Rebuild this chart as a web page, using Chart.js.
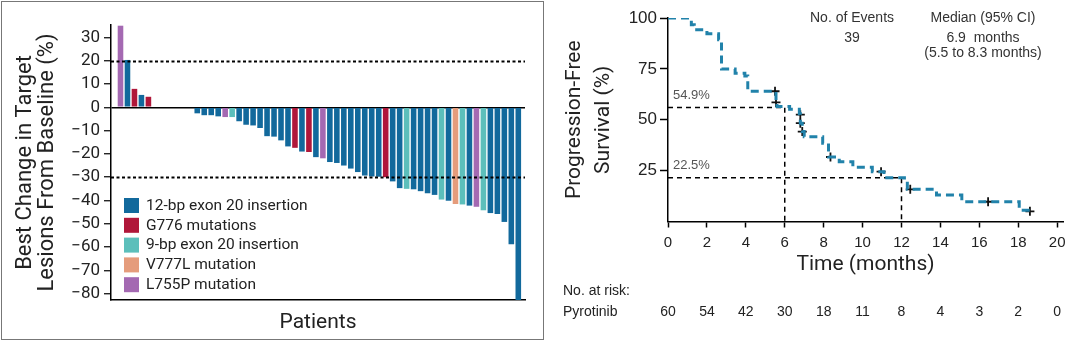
<!DOCTYPE html>
<html><head><meta charset="utf-8">
<script src="https://cdn.jsdelivr.net/npm/chart.js@4.4.1/dist/chart.umd.min.js"></script>
<style>
html,body{margin:0;padding:0;background:#fff;}
#wrap{position:relative;width:1080px;height:341px;overflow:hidden;background:#fff;}
#frame{position:absolute;left:1px;top:1px;width:541px;height:337px;border:1px solid #777;}
#c1{position:absolute;left:0;top:0;}
#c2{position:absolute;left:545px;top:0;}
</style></head><body>
<div id="wrap"><div id="frame"></div>
<canvas id="c1" width="545" height="341"></canvas>
<canvas id="c2" width="535" height="341"></canvas></div>
<script>
// ---------- Waterfall data ----------
const bestChange = [35, 20.3, 7.9, 5.3, 4.5, 0, 0, 0, 0, 0, 0,
  -2.6, -3.4, -3.4, -3.9, -4.2, -4.2, -6.0, -7.5, -7.8, -8.9,
  -12.4, -12.6, -14.2, -16.8, -17.4, -19.0, -19.2, -21.4, -21.9, -23.5,
  -23.9, -25.0, -26.3, -27.8, -29.3, -29.7, -29.8, -30.0, -31.8, -34.7,
  -35.0, -35.2, -36.0, -36.9, -37.6, -39.6, -40.1, -41.5, -41.7, -42.2,
  -42.7, -44.2, -45.4, -45.8, -49.2, -58.8, -83];
const mutationType = ['P','B','R','B','R','B','B','B','B','B','B',
  'B','B','B','B','P','T','B','B','B','B',
  'B','B','B','B','R','B','R','B','P','B',
  'B','B','B','B','B','B','B','R','B','B',
  'T','B','B','B','B','T','B','S','T','B',
  'P','T','B','B','B','B','B'];
const patients = bestChange.map((v, i) => i);   // patient position along the x axis
const legendKeys = ['B', 'R', 'T', 'S', 'P'];
const legendLabels = ['12-bp exon 20 insertion', 'G776 mutations', '9-bp exon 20 insertion', 'V777L mutation', 'L755P mutation'];
const typeColors = { B: '#12699c', R: '#b0173a', T: '#5cbfbb', S: '#e59c7c', P: '#a469b2' };
const leftYTicks = [30, 20, 10, 0, -10, -20, -30, -40, -50, -60, -70, -80];
const refLevels = [20, -30];

// ---------- Kaplan-Meier data ----------
const kmTime = [0, 1.2, 1.35, 2.0, 2.6, 2.75, 3.45, 3.95, 4.1, 5.55, 5.6, 6.25, 6.75, 6.8, 6.9, 7.0, 7.95, 8.25, 8.8, 9.5, 10.5, 11.1, 12.15, 12.3, 13.8, 15.1, 18.05, 18.6];
const kmSurv = [100, 96.7, 94.2, 92.3, 89.3, 75, 72.8, 71.5, 64, 59, 56.5, 55.2, 53, 48.3, 44.2, 41.7, 38.5, 31.7, 29.4, 26.7, 24.5, 21.5, 19.6, 15.8, 13, 9.7, 5.5, 5.5];
const censorTime = [5.5, 5.55, 6.8, 6.8, 6.9, 8.35, 10.95, 12.45, 16.45, 18.6];
const censorSurv = [64, 58.5, 52.5, 48.3, 44.2, 31.7, 24.5, 15.8, 9.7, 5];
const medianRef = { time: 6, surv: 56, label: '54.9%' };
const yearRef = { time: 12, surv: 21.5, label: '22.5%' };
const rightXTicks = [0, 2, 4, 6, 8, 10, 12, 14, 16, 18, 20];
const rightYTicks = [25, 50, 75, 100];
const atRiskTimes = [0, 2, 4, 6, 8, 10, 12, 14, 16, 18, 20];
const atRisk = [60, 54, 42, 30, 18, 11, 8, 4, 3, 2, 0];

const NARROW = "'Liberation Sans Narrow', Roboto, sans-serif";
const ROBOTO = "Roboto, 'Liberation Sans', sans-serif";
const ARIAL = "'Liberation Sans', Arial, sans-serif";

const refLinePlugin = {
  id: 'refLines',
  afterDatasetsDraw(chart) {
    const { ctx, chartArea, scales } = chart;
    ctx.save();
    ctx.strokeStyle = '#000';
    ctx.lineWidth = 2;
    ctx.setLineDash([3, 2.5]);
    refLevels.forEach(v => {
      const y = Math.round(scales.y.getPixelForValue(v)) + 0.5;
      ctx.beginPath();
      ctx.moveTo(chartArea.left, y);
      ctx.lineTo(chartArea.right, y);
      ctx.stroke();
    });
    ctx.restore();
  }
};

const legendPlugin = {
  id: 'boxLegend',
  afterDraw(chart) {
    const { ctx, chartArea } = chart;
    ctx.save();
    ctx.font = '15.5px ' + ROBOTO;
    ctx.textBaseline = 'middle';
    ctx.textAlign = 'left';
    legendKeys.forEach((k, i) => {
      const yc = chartArea.top + 180 + i * 19.8;
      ctx.fillStyle = typeColors[k];
      ctx.fillRect(chartArea.left + 13, yc - 7, 15, 15);
      ctx.fillStyle = '#222';
      ctx.fillText(legendLabels[i], chartArea.left + 35, yc + 1);
    });
    ctx.restore();
  }
};

new Chart(document.getElementById('c1'), {
  type: 'bar',
  data: {
    datasets: [{
      data: patients.map((p, i) => ({ x: p, y: bestChange[i] })),
      backgroundColor: mutationType.map(t => typeColors[t]),
      borderWidth: 0,
      barPercentage: 0.8,
      categoryPercentage: 1.0
    }]
  },
  options: {
    responsive: false,
    animation: false,
    layout: { padding: { top: 25, right: 20, left: 0, bottom: 0 } },
    plugins: { legend: { display: false }, tooltip: { enabled: false } },
    scales: {
      x: {
        type: 'linear', min: -1.36, max: 57.96, offset: false,
        ticks: { display: false },
        grid: { display: false },
        border: { display: true, color: '#000', width: 1.5 },
        title: { display: true, text: 'Patients', color: '#222', font: { family: ROBOTO, size: 21 }, padding: { top: 0, bottom: 6 } },
        afterFit: s => { s.height = 41; }
      },
      y: {
        min: -82.7, max: 35.3,
        afterBuildTicks: s => { s.ticks = leftYTicks.map(v => ({ value: v })); },
        ticks: {
          color: '#222', padding: 4,
          font: { family: NARROW, size: 17 },
          callback: v => String(v).replace('-', '\u2212')
        },
        grid: {
          drawOnChartArea: true,
          color: c => (c.tick && c.tick.value === 0) ? '#000' : 'rgba(0,0,0,0)',
          lineWidth: 1.5,
          tickColor: '#000', tickLength: 7, tickWidth: 1.2
        },
        border: { display: true, color: '#000', width: 1.5 },
        title: {
          display: true,
          text: ['Best Change in Target', 'Lesions From Baseline (%)'],
          color: '#222',
          font: { family: NARROW, size: 22, lineHeight: 1.0 },
          padding: { top: 14, bottom: 0 }
        },
        afterFit: s => { s.width = 111; }
      }
    }
  },
  plugins: [refLinePlugin, legendPlugin]
});

// ---------- Right panel ----------
const annotPlugin = {
  id: 'kmText',
  afterDraw(chart) {
    const { ctx, scales, chartArea } = chart;
    const xs = scales.x, ys = scales.y;
    ctx.save();
    ctx.fillStyle = '#333';
    ctx.textBaseline = 'middle';
    ctx.font = '14px ' + ARIAL;
    ctx.textAlign = 'center';
    ctx.fillText('No. of Events', 307, 18);
    ctx.fillText('39', 307, 38);
    ctx.fillText('Median (95% CI)', 438, 18);
    ctx.fillText('6.9  months', 438, 38);
    ctx.fillText('(5.5 to 8.3 months)', 438, 53);
    ctx.fillStyle = '#555';
    ctx.font = '13px ' + ARIAL;
    ctx.textAlign = 'left';
    ctx.fillText(medianRef.label, chartArea.left + 5, ys.getPixelForValue(medianRef.surv) - 12);
    ctx.fillText(yearRef.label, chartArea.left + 5, ys.getPixelForValue(yearRef.surv) - 12);
    ctx.fillStyle = '#222';
    ctx.font = '14px ' + ARIAL;
    ctx.fillText('No. at risk:', 18, 291);
    ctx.fillText('Pyrotinib', 18, 312);
    ctx.textAlign = 'center';
    atRiskTimes.forEach((t, i) => {
      ctx.fillText(String(atRisk[i]), xs.getPixelForValue(t), 312);
    });
    ctx.restore();
  }
};

new Chart(document.getElementById('c2'), {
  type: 'line',
  data: {
    datasets: [
      {
        data: kmTime.map((t, i) => ({ x: t, y: kmSurv[i] })),
        stepped: true,
        borderColor: '#2182aa',
        borderWidth: 3,
        borderDash: [8, 5],
        pointRadius: 0,
        fill: false
      },
      {
        data: [{ x: 0, y: medianRef.surv }, { x: medianRef.time, y: medianRef.surv }, { x: medianRef.time, y: 0 }],
        borderColor: '#000', borderWidth: 1.5, borderDash: [5, 4], pointRadius: 0, fill: false
      },
      {
        data: [{ x: 0, y: yearRef.surv }, { x: yearRef.time, y: yearRef.surv }, { x: yearRef.time, y: 0 }],
        borderColor: '#000', borderWidth: 1.5, borderDash: [5, 4], pointRadius: 0, fill: false
      },
      {
        data: censorTime.map((t, i) => ({ x: t, y: censorSurv[i] })),
        showLine: false,
        pointStyle: 'cross',
        pointRadius: 4.5,
        borderColor: '#111',
        backgroundColor: '#111',
        pointBorderWidth: 1.8
      }
    ]
  },
  options: {
    responsive: false,
    animation: false,
    layout: { padding: { top: 18, right: 17, left: 0, bottom: 0 } },
    plugins: { legend: { display: false }, tooltip: { enabled: false } },
    scales: {
      x: {
        type: 'linear', min: 0, max: 20.3,
        afterBuildTicks: s => { s.ticks = rightXTicks.map(v => ({ value: v })); },
        ticks: { color: '#222', font: { family: ARIAL, size: 15 }, padding: 6, maxRotation: 0 },
        grid: { drawOnChartArea: false, tickColor: '#000', tickLength: 6, tickWidth: 1.5 },
        border: { display: true, color: '#000', width: 1.5 },
        title: { display: true, text: 'Time (months)', color: '#222', font: { family: ROBOTO, size: 21 }, padding: { top: 0, bottom: 64 } },
        afterFit: s => { s.height = 119.5; }
      },
      y: {
        min: 0, max: 100,
        afterBuildTicks: s => { s.ticks = rightYTicks.map(v => ({ value: v })); },
        ticks: { color: '#222', font: { family: ARIAL, size: 17 }, padding: 3 },
        grid: { drawOnChartArea: false, tickColor: '#000', tickLength: 8, tickWidth: 1.5 },
        border: { display: true, color: '#000', width: 1.5 },
        title: {
          display: true,
          text: ['Progression-Free', 'Survival (%)'],
          color: '#222',
          font: { family: ROBOTO, size: 21, lineHeight: 1.4 },
          padding: { top: 15, bottom: 0 }
        },
        afterFit: s => { s.width = 123; }
      }
    }
  },
  plugins: [annotPlugin]
});
</script>
</body></html>
